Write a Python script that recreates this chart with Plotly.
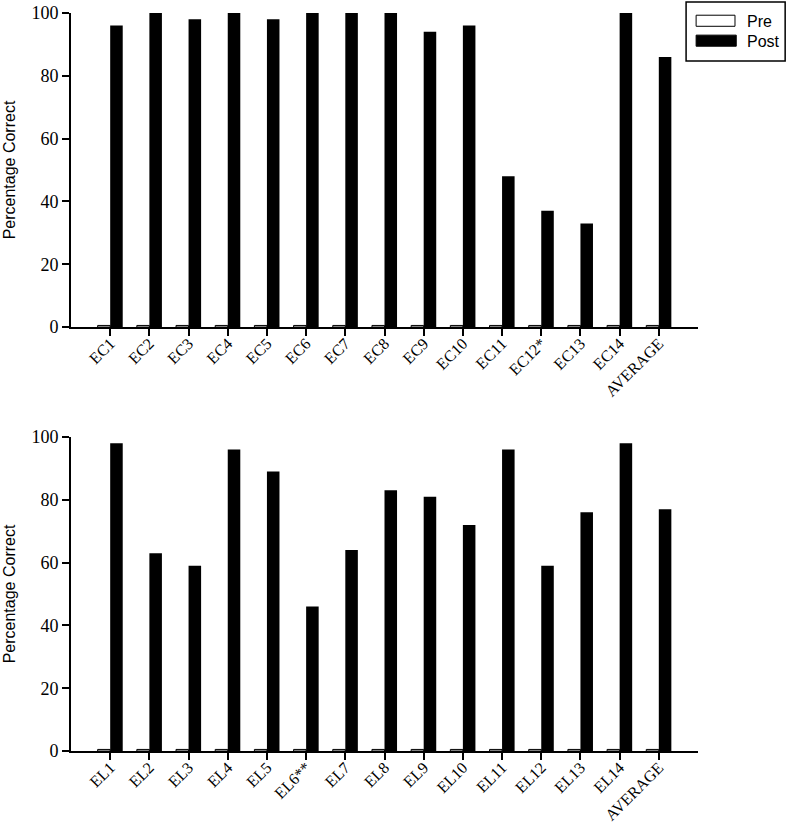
import plotly.graph_objects as go

# top panel
ec_labels = ["EC1", "EC2", "EC3", "EC4", "EC5", "EC6", "EC7", "EC8", "EC9", "EC10",
             "EC11", "EC12*", "EC13", "EC14", "AVERAGE"]
ec_pre = [0.5] * 15
ec_post = [96, 100, 98, 100, 98, 100, 100, 100, 94, 96, 48, 37, 33, 100, 86]

# bottom panel
el_labels = ["EL1", "EL2", "EL3", "EL4", "EL5", "EL6**", "EL7", "EL8", "EL9", "EL10",
             "EL11", "EL12", "EL13", "EL14", "AVERAGE"]
el_pre = [0.5] * 15
el_post = [98, 63, 59, 96, 89, 46, 64, 83, 81, 72, 96, 59, 76, 98, 77]

SERIF = "Liberation Serif"
SANS = "Liberation Sans"

fig = go.Figure()

panels = [
    ("x", "y", ec_labels, ec_pre, ec_post),
    ("x2", "y2", el_labels, el_pre, el_post),
]
for xa, ya, labels, pre, post in panels:
    pos = list(range(len(labels)))
    fig.add_trace(go.Bar(
        x=pos, y=pre, name="Pre", xaxis=xa, yaxis=ya,
        marker=dict(color="white", line=dict(color="black", width=1)),
        showlegend=False,
    ))
    fig.add_trace(go.Bar(
        x=pos, y=post, name="Post", xaxis=xa, yaxis=ya,
        marker=dict(color="black", line=dict(color="black", width=0)),
        showlegend=False,
    ))

_X = dict(
    range=[-1, 15], showline=True, linecolor="black", linewidth=2,
    ticks="outside", ticklen=7, tickwidth=2, tickcolor="black",
    tickangle=-45, tickfont=dict(family=SERIF, size=16, color="black"),
    ticklabelstandoff=-8,
    showgrid=False, zeroline=False, fixedrange=True, automargin=False,
)
_Y = dict(
    range=[0, 100], tickvals=[0, 20, 40, 60, 80, 100],
    showline=True, linecolor="black", linewidth=2,
    ticks="outside", ticklen=7, tickwidth=2, tickcolor="black",
    tickfont=dict(family=SERIF, size=18, color="black"),
    title=dict(text="Percentage Correct", font=dict(family=SANS, size=16, color="black"), standoff=12),
    showgrid=False, zeroline=False, fixedrange=True, automargin=False,
)

fig.update_layout(
    width=786, height=824,
    margin=dict(l=71, r=88, t=13, b=73, autoexpand=False),
    plot_bgcolor="white", paper_bgcolor="white",
    barmode="group", bargap=0.36, bargroupgap=0,
    xaxis=dict(_X, domain=[0, 1], anchor="y", tickvals=list(range(15)), ticktext=ec_labels),
    yaxis=dict(_Y, domain=[0.5745, 1.0], anchor="x"),
    xaxis2=dict(_X, domain=[0, 1], anchor="y2", tickvals=list(range(15)), ticktext=el_labels),
    yaxis2=dict(_Y, domain=[0, 0.4255], anchor="x2"),
)

# legend drawn by hand to get the wide swatches
fig.add_shape(type="rect", xref="paper", yref="paper", x0=0.981, x1=1.139, y0=0.935, y1=1.015,
              line=dict(color="black", width=1.5), fillcolor="white")
fig.add_shape(type="rect", xref="paper", yref="paper", x0=0.997, x1=1.059, y0=0.982, y1=0.997,
              line=dict(color="black", width=1), fillcolor="white")
fig.add_shape(type="rect", xref="paper", yref="paper", x0=0.997, x1=1.061, y0=0.955, y1=0.970,
              line=dict(color="black", width=1), fillcolor="black")
for name, yy in [("Pre", 0.989), ("Post", 0.962)]:
    fig.add_annotation(text=name, xref="paper", yref="paper", x=1.075, y=yy,
                       xanchor="left", yanchor="middle", showarrow=False,
                       font=dict(family=SANS, size=16, color="black"))

# drop the default 8px body margin so the figure sits at the page corner
fig.write_html("out.html", config={"displayModeBar": False},
               post_script="document.body.style.margin='0px';")
